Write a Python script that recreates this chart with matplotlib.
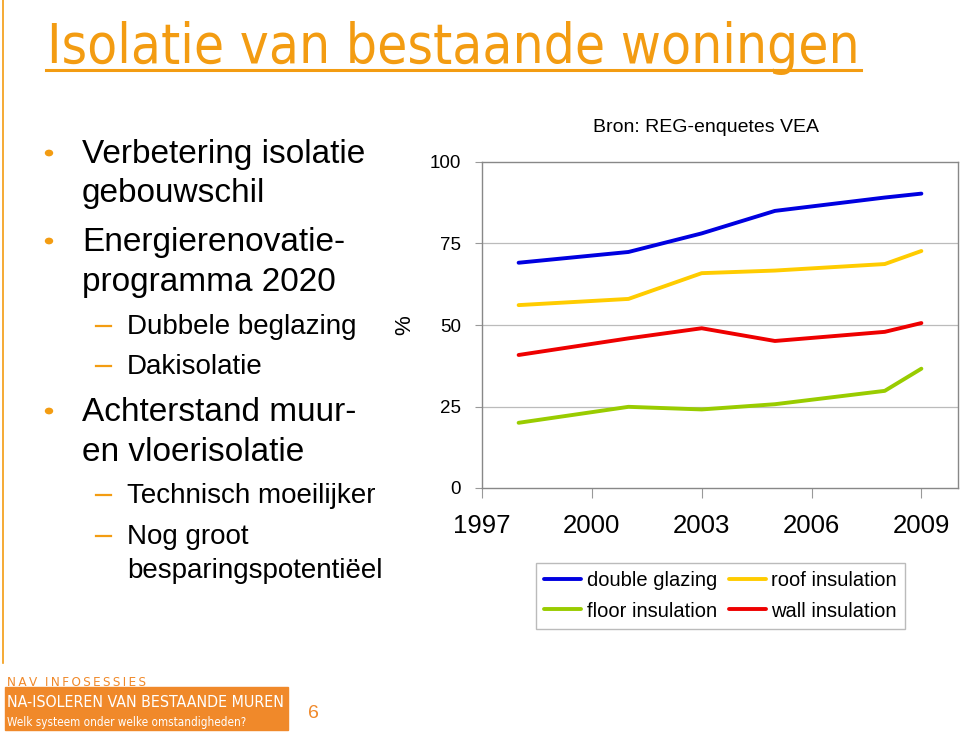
import matplotlib
matplotlib.use("Agg")
import matplotlib.pyplot as plt
from matplotlib import font_manager
from matplotlib.font_manager import FontProperties
from matplotlib.patches import Rectangle, Circle
from matplotlib.lines import Line2D

# ---------------- data ----------------
years = [1998, 2001, 2003, 2005, 2008, 2009]
double_glazing = [69.1, 72.4, 78.1, 85.0, 89.1, 90.3]
roof_insulation = [56.1, 58.0, 65.9, 66.7, 68.7, 72.7]
wall_insulation = [40.8, 45.9, 49.0, 45.1, 47.9, 50.6]
floor_insulation = [20.0, 24.9, 24.1, 25.7, 29.8, 36.6]
x_ticks = [1997, 2000, 2003, 2006, 2009]
y_ticks = [0, 25, 50, 75, 100]

title = "Isolatie van bestaande woningen"
bullets = [
    ("main", ["Verbetering isolatie", "gebouwschil"]),
    ("main", ["Energierenovatie-", "programma 2020"]),
    ("sub", ["Dubbele beglazing"]),
    ("sub", ["Dakisolatie"]),
    ("main", ["Achterstand muur-", "en vloerisolatie"]),
    ("sub", ["Technisch moeilijker"]),
    ("sub", ["Nog groot", "besparingspotentiëel"]),
]
source = "Bron: REG-enquetes VEA"
footer_top = "NAV INFOSESSIES"
footer_main = "NA-ISOLEREN VAN BESTAANDE MUREN"
footer_sub = "Welk systeem onder welke omstandigheden?"
page = "6"

# ---------------- fonts ----------------
names = {f.name for f in font_manager.fontManager.ttflist}
SANS = "Liberation Sans" if "Liberation Sans" in names else "DejaVu Sans"
plt.rcParams['font.family'] = [SANS, 'DejaVu Sans']


def find_condensed(bold=False):
    cands = []
    for f in font_manager.fontManager.ttflist:
        fn = f.fname.lower()
        if ("narrow" in fn or "condensed" in fn) and f.style == "normal":
            is_bold = (f.weight in ("bold", 700) or
                       (isinstance(f.weight, int) and f.weight >= 600) or "bold" in fn)
            if is_bold == bold:
                cands.append(f.fname)
    pref = ["liberationsansnarrow", "dejavusanscondensed", "robotocondensed",
            "opensans_condensed", "opensanscondensed", "notosanscondensed"]
    for p in pref:
        for c in cands:
            if p in c.lower().replace("-", "").replace(" ", ""):
                return FontProperties(fname=c)
    if cands:
        return FontProperties(fname=cands[0])
    return None


COND = find_condensed(False)
COND_B = find_condensed(True) or COND

ORANGE = "#F39C12"
W, H = 960, 732
fig = plt.figure(figsize=(W / 100, H / 100), dpi=100)
fig.patch.set_facecolor("white")
renderer = fig.canvas.get_renderer()


def fx(px):
    return px / W


def fy(py):
    return 1 - py / H


def fit_width(txt, width_px, max_size):
    txt.set_fontsize(max_size)
    w = txt.get_window_extent(renderer).width
    if w > width_px:
        txt.set_fontsize(max_size * width_px / w)


def cond_text(x, y, s, size, width_px, bold=False, **kw):
    fp = COND_B if bold else COND
    if fp is not None:
        fp = fp.copy()
        fp.set_size(size)
        t = fig.text(x, y, s, fontproperties=fp, **kw)
    else:
        t = fig.text(x, y, s, fontsize=size, weight="bold" if bold else "normal", **kw)
    fit_width(t, width_px, size)
    return t


# left vertical orange line
fig.add_artist(Line2D([fx(3), fx(3)], [fy(0), fy(663)], color=ORANGE, lw=1.2))

# title
cond_text(fx(47), fy(63), title, 44, 812, color=ORANGE, va="baseline", ha="left")
fig.add_artist(Line2D([fx(46), fx(861)], [fy(70), fy(70)], color=ORANGE, lw=2.2))

# bullets
baselines = [[163, 202], [251, 291], [334], [374], [421, 461], [503], [544, 578]]
for (level, lines), bl in zip(bullets, baselines):
    if level == "main":
        x0, fs = 82, 24
        fig.add_artist(Circle((fx(49), fy(bl[0] - 10)), radius=3.5 / W,
                              color=ORANGE, transform=fig.transFigure))
    else:
        x0, fs = 127, 20
        fig.add_artist(Line2D([fx(96), fx(111)], [fy(bl[0] - 8), fy(bl[0] - 8)],
                              color=ORANGE, lw=1.6))
    for line, b in zip(lines, bl):
        fig.text(fx(x0), fy(b), line, fontsize=fs, color="black",
                 va="baseline", ha="left")

# ---------------- chart ----------------
ax = fig.add_axes([fx(482), fy(488), fx(958) - fx(482), fy(162) - fy(488)])
series = [
    ("double glazing", double_glazing, "#0000E0"),
    ("roof insulation", roof_insulation, "#FFCC00"),
    ("floor insulation", floor_insulation, "#99CC00"),
    ("wall insulation", wall_insulation, "#EE0000"),
]
handles = {}
for name, vals, col in series:
    h, = ax.plot(years, vals, color=col, lw=2.8, solid_capstyle="round")
    handles[name] = h

ax.set_xlim(1997, 2010)
ax.set_ylim(0, 100)
ax.set_xticks(x_ticks)
ax.set_xticklabels([str(t) for t in x_ticks], fontsize=18.5)
ax.set_yticks(y_ticks)
ax.set_yticklabels([str(t) for t in y_ticks], fontsize=13.5)
ax.tick_params(axis="x", length=7, color="#999999", pad=12)
ax.tick_params(axis="y", length=5, color="#999999", pad=10)
for t in [25, 50, 75]:
    ax.axhline(t, color="#BBBBBB", lw=0.9, zorder=0)
for s in ax.spines.values():
    s.set_color("#888888")
    s.set_linewidth(1.0)

fig.text(fx(405), fy(325), "%", fontsize=16, rotation=90, ha="center", va="center")
fig.text(fx(706), fy(127), source, ha="center", va="center", fontsize=14)

order = ["double glazing", "floor insulation", "roof insulation", "wall insulation"]
leg = fig.legend([handles[n] for n in order], order, ncol=2,
                 loc="center", bbox_to_anchor=(fx(720.5), fy(596)),
                 fontsize=14.5, frameon=True, fancybox=False,
                 handlelength=1.85, handletextpad=0.25, columnspacing=0.6,
                 labelspacing=0.55, borderpad=0.4, borderaxespad=0)
leg.get_frame().set_edgecolor("#AAAAAA")
leg.get_frame().set_linewidth(1.0)

# ---------------- footer ----------------
FOOT = "#F0892A"
fig.add_artist(Rectangle((fx(5), fy(730)), fx(288) - fx(5), fy(687) - fy(730),
                         color=FOOT, transform=fig.transFigure))
spaced_top = "  ".join("\u2009".join(word) for word in footer_top.split(" "))
cond_text(fx(7), fy(686), spaced_top, 14, 141,
          color=FOOT, va="baseline", ha="left")
cond_text(fx(7), fy(707), footer_main, 18, 278, color="white",
          va="baseline", ha="left")
cond_text(fx(7), fy(726), footer_sub, 14, 238, color="white",
          va="baseline", ha="left")
fig.text(fx(313), fy(714), page, fontsize=14, color=FOOT, ha="center", va="center")

fig.savefig("out.png", dpi=100)
